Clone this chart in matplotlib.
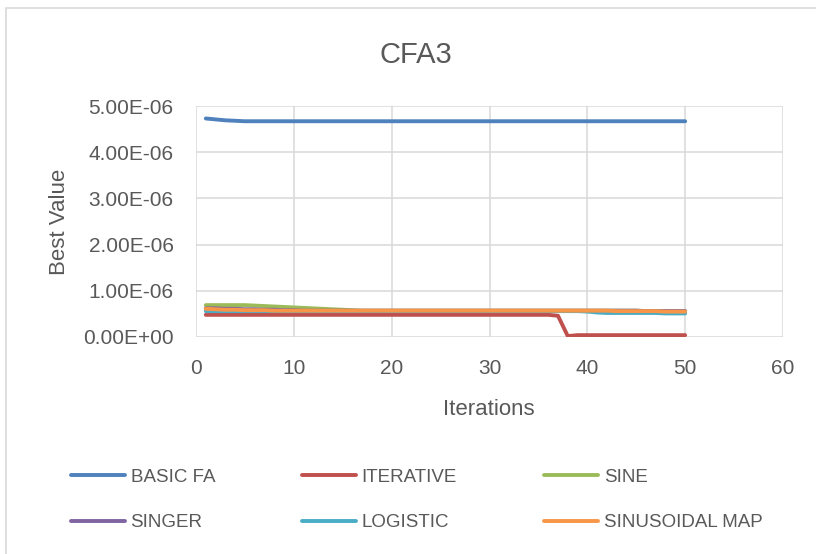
import matplotlib
matplotlib.use("Agg")
import matplotlib.pyplot as plt
from matplotlib.patches import Rectangle
from matplotlib.ticker import FuncFormatter, MultipleLocator

plt.rcParams['font.family'] = ['Liberation Sans', 'DejaVu Sans']

iterations = list(range(1, 51))

# values in units of 1e-6
basic_fa = [4.73, 4.71, 4.69, 4.68, 4.67, 4.67, 4.67, 4.67, 4.67, 4.67,
            4.67, 4.67, 4.67, 4.67, 4.67, 4.67, 4.67, 4.67, 4.67, 4.67,
            4.67, 4.67, 4.67, 4.67, 4.67, 4.67, 4.67, 4.67, 4.67, 4.67,
            4.67, 4.67, 4.67, 4.67, 4.67, 4.67, 4.67, 4.67, 4.67, 4.67,
            4.67, 4.67, 4.67, 4.67, 4.67, 4.67, 4.67, 4.67, 4.67, 4.67]
iterative = [0.48, 0.48, 0.48, 0.48, 0.48, 0.48, 0.48, 0.48, 0.48, 0.48,
             0.48, 0.48, 0.48, 0.48, 0.48, 0.48, 0.48, 0.48, 0.48, 0.48,
             0.48, 0.48, 0.48, 0.48, 0.48, 0.48, 0.48, 0.48, 0.48, 0.48,
             0.48, 0.48, 0.48, 0.48, 0.48, 0.48, 0.46, 0.02, 0.04, 0.04,
             0.04, 0.04, 0.04, 0.04, 0.04, 0.04, 0.04, 0.04, 0.04, 0.04]
sine = [0.69, 0.69, 0.69, 0.69, 0.69, 0.68, 0.67, 0.66, 0.65, 0.64,
        0.63, 0.62, 0.61, 0.60, 0.59, 0.58, 0.57, 0.57, 0.57, 0.57,
        0.57, 0.57, 0.57, 0.57, 0.57, 0.57, 0.57, 0.57, 0.57, 0.57,
        0.57, 0.57, 0.57, 0.57, 0.57, 0.57, 0.57, 0.57, 0.57, 0.57,
        0.57, 0.57, 0.57, 0.57, 0.57, 0.56, 0.56, 0.56, 0.56, 0.56]
singer = [0.62, 0.62, 0.61, 0.61, 0.60, 0.60, 0.59, 0.59, 0.58, 0.58,
          0.57, 0.57, 0.57, 0.57, 0.57, 0.57, 0.57, 0.57, 0.57, 0.57,
          0.57, 0.57, 0.57, 0.57, 0.57, 0.57, 0.57, 0.57, 0.57, 0.57,
          0.57, 0.57, 0.57, 0.57, 0.57, 0.57, 0.57, 0.57, 0.57, 0.57,
          0.57, 0.57, 0.57, 0.57, 0.57, 0.56, 0.56, 0.56, 0.56, 0.56]
logistic = [0.56, 0.56, 0.56, 0.56, 0.56, 0.56, 0.56, 0.56, 0.56, 0.56,
            0.56, 0.56, 0.56, 0.56, 0.56, 0.56, 0.56, 0.56, 0.56, 0.56,
            0.56, 0.56, 0.56, 0.56, 0.56, 0.56, 0.56, 0.56, 0.56, 0.56,
            0.56, 0.56, 0.56, 0.56, 0.56, 0.56, 0.56, 0.56, 0.56, 0.55,
            0.53, 0.52, 0.52, 0.52, 0.52, 0.52, 0.52, 0.51, 0.51, 0.51]
sinusoidal = [0.61, 0.60, 0.59, 0.59, 0.58, 0.58, 0.58, 0.57, 0.57, 0.57,
              0.57, 0.57, 0.57, 0.57, 0.57, 0.57, 0.57, 0.57, 0.57, 0.57,
              0.57, 0.57, 0.57, 0.57, 0.57, 0.57, 0.57, 0.57, 0.57, 0.57,
              0.57, 0.57, 0.57, 0.57, 0.57, 0.57, 0.57, 0.57, 0.57, 0.57,
              0.57, 0.57, 0.56, 0.56, 0.56, 0.56, 0.56, 0.55, 0.55, 0.55]

series_names = ["BASIC FA", "ITERATIVE", "SINE", "SINGER", "LOGISTIC", "SINUSOIDAL MAP"]
series_values = [basic_fa, iterative, sine, singer, logistic, sinusoidal]
series_colors = ["#4F81BD", "#C0504D", "#9BBB59", "#8064A2", "#4BACC6", "#F79646"]

text_color = "#595959"
grid_color = "#D9D9D9"

fig = plt.figure(figsize=(8.16, 5.54), dpi=100)
fig.patch.set_facecolor("white")

# chart area border (runs off the right and bottom edges)
fig.patches.append(Rectangle((6 / 816, -0.05), 1.2, 0.9856 + 0.05,
                             transform=fig.transFigure, fill=False,
                             edgecolor=grid_color, linewidth=1.2))

ax = fig.add_axes([196 / 816, (554 - 337) / 554, 587 / 816, 231 / 554])

lines = []
for name, vals, col in zip(series_names, series_values, series_colors):
    ln, = ax.plot(iterations, [v * 1e-6 for v in vals], color=col, lw=2.8,
                  label=name, solid_capstyle="round", solid_joinstyle="round")
    lines.append(ln)

ax.set_xlim(0, 60)
ax.set_ylim(0, 5e-6)
ax.xaxis.set_major_locator(MultipleLocator(10))
ax.yaxis.set_major_locator(MultipleLocator(1e-6))
ax.yaxis.set_major_formatter(FuncFormatter(lambda v, p: "{:.2E}".format(v)))
ax.grid(True, color=grid_color, linewidth=1.1)
ax.set_axisbelow(True)
for s in ax.spines.values():
    s.set_visible(False)
ax.tick_params(length=0, labelsize=15, labelcolor=text_color)
ax.tick_params(axis="y", pad=16)
ax.tick_params(axis="x", pad=16)

fig.text(0.51, (554 - 63) / 554, "CFA3", fontsize=21, color=text_color,
         ha="center", va="baseline")
fig.text(0.599, (554 - 415) / 554, "Iterations", fontsize=16, color=text_color,
         ha="center", va="baseline")
fig.text(59.5 / 816, (554 - 221.5) / 554, "Best Value", fontsize=16,
         color=text_color, ha="center", va="center", rotation=90)

# legend is filled column by column, so reorder to read row by row
order = [0, 3, 1, 4, 2, 5]
fig.legend([lines[i] for i in order], [series_names[i] for i in order],
           loc="center", bbox_to_anchor=(0.5107, 0.0975), ncol=3,
           frameon=False, fontsize=13.5, labelcolor=text_color,
           handlelength=2.85, handletextpad=0.32, columnspacing=4.65,
           labelspacing=1.5)

fig.savefig("out.png", dpi=100)
